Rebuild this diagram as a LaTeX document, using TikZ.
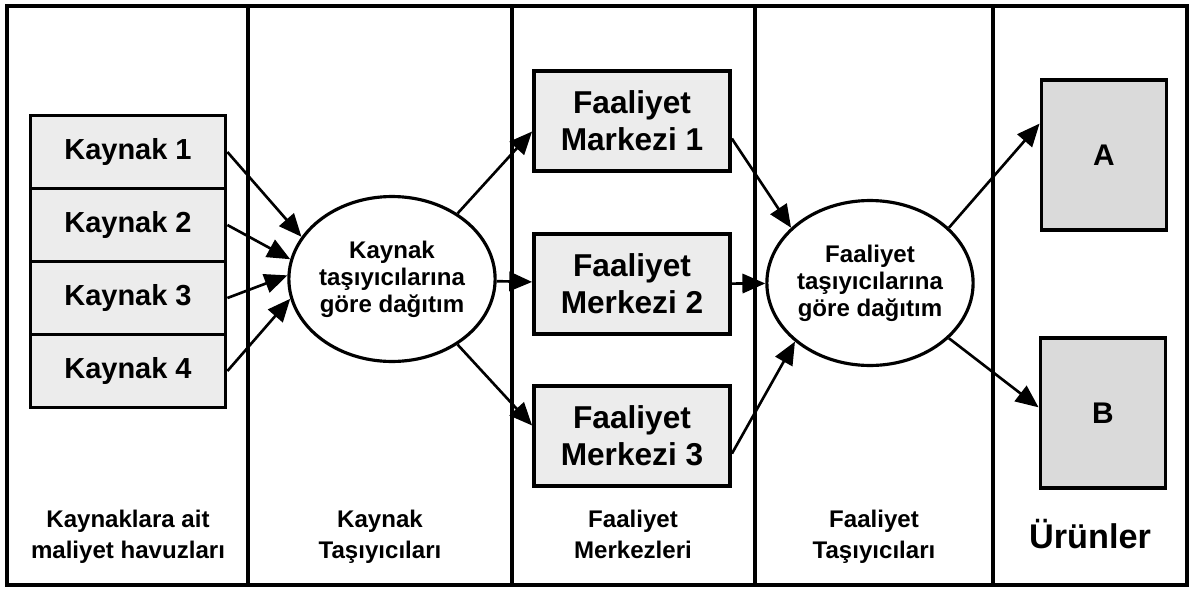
\documentclass[tikz,border=0pt]{standalone}
\usepackage{fontspec}
\setmainfont{Liberation Sans}
\usepackage{tikz}
\usetikzlibrary{shapes.geometric,arrows.meta}
\definecolor{stipple}{RGB}{236,236,236}
\definecolor{stippledark}{RGB}{218,218,218}

\begin{document}
\begin{tikzpicture}[x=0.02cm, y=-0.02cm,
    box/.style={draw, line width=2.2pt, fill=stipple, align=center, inner sep=0pt,
        font=\bfseries\fontsize{16.5}{20}\selectfont},
    kbox/.style={box, minimum width=3.9cm, minimum height=1.46cm},
    fmbox/.style={box, minimum width=3.92cm, minimum height=2cm,
        font=\bfseries\fontsize{18}{21}\selectfont},
    urun/.style={box, fill=stippledark, minimum width=2.5cm, minimum height=3cm,
        font=\bfseries\fontsize{17}{20}\selectfont},
    dagitim/.style={draw, ellipse, line width=1.8pt, fill=white, align=center, inner sep=0pt,
        minimum width=3.8cm, minimum height=3.3cm,
        font=\bfseries\fontsize{13.7}{15.4}\selectfont},
    baslik/.style={align=center, anchor=north, inner sep=0pt,
        font=\bfseries\fontsize{13.7}{17.6}\selectfont},
    ok/.style={line width=1.5pt, -{Triangle[length=13pt,width=11pt]}}]
    \useasboundingbox (0,0) rectangle (1194,592);

    % Frame and columns
    \draw[line width=2.2pt] (7,6) rectangle (1187,585);
    \foreach \x in {248,512,755,993}
        \draw[line width=2.2pt] (\x,6) -- (\x,585);

    % Resources
    \foreach \i/\y in {1/152,2/225,3/298,4/371}
        \node[kbox] (k\i) at (128,\y) {Kaynak \i};

    % Allocation by resource drivers
    \node[dagitim] (kt) at (392,279) {Kaynak\\taşıyıcılarına\\göre dağıtım};

    % Activity centres
    \node[fmbox] (fm1) at (632,121) {Faaliyet\\Markezi 1};
    \node[fmbox] (fm2) at (632,284) {Faaliyet\\Merkezi 2};
    \node[fmbox] (fm3) at (632,436) {Faaliyet\\Merkezi 3};

    % Allocation by activity drivers
    \node[dagitim] (ft) at (870,283) {Faaliyet\\taşıyıcılarına\\göre dağıtım};

    % Products
    \node[urun] (a) at (1104,155) {A};
    \node[urun] (b) at (1103,413) {B};

    % Arrows
    \draw[ok] (k1.east) -- (kt.155);
    \draw[ok] (k2.east) -- (kt.169);
    \draw[ok] (k3.east) -- (kt.178);
    \draw[ok] (k4.east) -- (kt.191);
    \draw[ok] (kt.45) -- (fm1.186);
    \draw[ok] (kt) -- (fm2);
    \draw[ok] (kt.-45) -- (fm3.174);
    \draw[ok] (fm1.-10) -- (ft.145);
    \draw[ok] (fm2) -- (ft);
    \draw[ok] (fm3.-10) -- (ft.218);
    \draw[ok] (ft.35) -- (a.154);
    \draw[ok] (ft.-35) -- (b.175);

    % Column titles
    \node[baslik] (t1) at (128,510) {Kaynaklara ait\\maliyet havuzları};
    \node[baslik] (t2) at (380,510) {Kaynak\\Taşıyıcıları};
    \node[baslik] (t3) at (633,510) {Faaliyet\\Merkezleri};
    \node[baslik] (t4) at (874,510) {Faaliyet\\Taşıyıcıları};
    \node[baslik, font=\bfseries\fontsize{19.5}{22}\selectfont] (t5) at (1090,519) {Ürünler};
\end{tikzpicture}
\end{document}
